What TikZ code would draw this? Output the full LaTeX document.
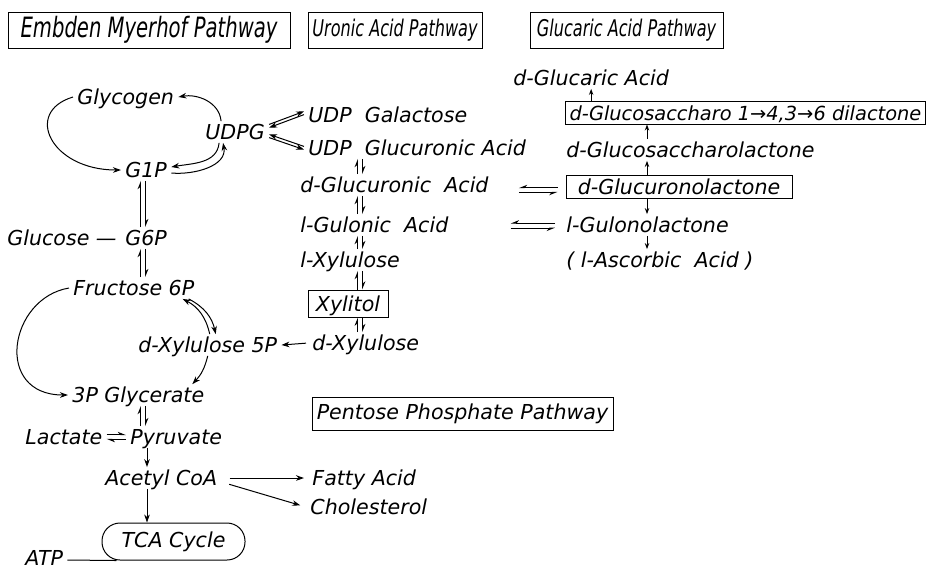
\documentclass[tikz,border=0pt]{standalone}
\usepackage{fontspec}
\setmainfont{DejaVu Sans}
\newfontfamily\hdrfont[FakeStretch=0.7]{DejaVu Sans}
\usetikzlibrary{arrows.meta}

\begin{document}
\begin{tikzpicture}[x=0.5pt,y=-0.5pt,
    every node/.style={font=\fontsize{10.3}{12}\selectfont\itshape},
    lbl/.style={anchor=west, inner xsep=2pt, inner ysep=1.5pt, text height=7.5pt, text depth=0pt},
    pathbox/.style={draw, line width=0.5pt, inner sep=0pt, minimum height=18pt},
    hlbox/.style={draw, line width=0.5pt, inner xsep=2pt, inner ysep=0pt, text height=7.5pt, text depth=0pt, minimum height=11.5pt},
    conn/.style={line width=0.5pt, -{Stealth[length=4pt,width=2.8pt]}},
    small/.style={line width=0.5pt, -{Stealth[length=3pt,width=2.2pt]}},
    harp/.style={line width=0.5pt, -{Stealth[harpoon,length=3.5pt,width=2.8pt]}},
    harps/.style={line width=0.5pt, -{Stealth[harpoon,swap,length=3.5pt,width=2.8pt]}}]
  \useasboundingbox (0,0) rectangle (930,570);

  % pathway titles
  \node[pathbox, font=\hdrfont\itshape\fontsize{14}{16}\selectfont, minimum width=141pt] (emp) at (149,30) {Embden Myerhof Pathway};
  \node[pathbox, font=\hdrfont\itshape\fontsize{11.5}{14}\selectfont, minimum width=87pt] (uap) at (395,30) {Uronic Acid Pathway};
  \node[pathbox, font=\hdrfont\itshape\fontsize{11.5}{14}\selectfont, minimum width=96.5pt] (gap) at (626.5,30) {Glucaric Acid Pathway};
  \node[pathbox, minimum width=150.5pt, minimum height=16.5pt] (ppp) at (462.5,413.5) {Pentose Phosphate Pathway};

  % Embden Myerhof
  \node[lbl] (glycogen) at (73,97) {Glycogen};
  \node[lbl] (udpg) at (201,132) {UDPG};
  \node[lbl] (gonep) at (121,170) {G1P};
  \node[lbl] (gsixp) at (121,238) {G6P};
  \node[lbl, anchor=east] (glucose) at (gsixp.west) {Glucose —};
  \node[lbl] (fructose) at (69,288) {Fructose 6P};
  \node[lbl] (xylfivep) at (134,345) {d-Xylulose 5P};
  \node[lbl] (glycerate) at (68,395) {3P Glycerate};
  \node[lbl] (lactate) at (21,437) {Lactate};
  \node[lbl] (pyruvate) at (126,437) {Pyruvate};
  \node[lbl] (acetyl) at (101,478) {Acetyl CoA};
  \node[lbl] (fatty) at (308,478) {Fatty Acid};
  \node[lbl] (chol) at (306,507) {Cholesterol};
  \node[draw, line width=0.5pt, rounded corners=9pt, minimum width=71.5pt, minimum height=18.5pt] (tca) at (173.5,541.5) {TCA Cycle};
  \node[lbl] (atp) at (21,558) {ATP};

  % Uronic acid
  \node[lbl] (udpgal) at (304,115) {UDP~~Galactose};
  \node[lbl] (udpglc) at (304,148) {UDP~~Glucuronic Acid};
  \node[lbl] (glcacid) at (296,185) {d-Glucuronic~~Acid};
  \node[lbl] (gulacid) at (296,225) {l-Gulonic~~Acid};
  \node[lbl] (lxyl) at (296,260) {l-Xylulose};
  \node[hlbox, minimum width=40pt, minimum height=13.5pt] (xylitol) at (348,303.5) {Xylitol};
  \node[lbl] (dxyl) at (308,343) {d-Xylulose};

  % Glucaric acid
  \node[lbl] (glucaric) at (509,78) {d-Glucaric Acid};
  \node[hlbox, font=\fontsize{9.7}{11}\selectfont\itshape, minimum width=179.5pt] (dilactone) at (745.5,112.5) {d-Glucosaccharo 1→4,3→6 dilactone};
  \node[lbl] (saccharolactone) at (562,150) {d-Glucosaccharolactone};
  \node[hlbox, minimum width=113pt] (glcnolactone) at (679,187) {d-Glucuronolactone};
  \node[lbl] (gulolactone) at (562,225) {l-Gulonolactone};
  \node[lbl] (ascorbic) at (562,260) {( l-Ascorbic~~Acid )};

  \coordinate (laxis) at (143,0);
  \coordinate (uaxis) at (360,0);
  \coordinate (gaxis) at (647,0);

  % glycogen cycle
  \draw[conn] ([xshift=-7pt]udpg.north) to[out=95,in=10] (glycogen.east);
  \draw[conn] (glycogen.west) .. controls +(-50,15) and +(-70,0) .. (gonep.west);
  \draw[conn] ([xshift=-8pt]udpg.south) to[out=-95,in=10] ([yshift=1.5pt]gonep.east);
  \draw[conn] ([yshift=-1.5pt]gonep.east) to[out=-5,in=-80] ([xshift=-6pt]udpg.south);

  % UDPG branches
  \draw[conn] ([yshift=3.8pt]udpg.east) -- ([yshift=1.8pt]udpgal.west);
  \draw[conn] ([yshift=0.2pt]udpgal.west) -- ([yshift=2.2pt]udpg.east);
  \draw[conn] ([yshift=0.8pt]udpglc.west) -- ([yshift=-1.2pt]udpg.east);
  \draw[conn] ([yshift=-2.8pt]udpg.east) -- ([yshift=-0.8pt]udpglc.west);

  % glycolysis
  \draw[harp] ([xshift=-1.3pt]gsixp.north -| laxis) -- ([xshift=-1.3pt]gonep.south -| laxis);
  \draw[harp] ([xshift=1.3pt]gonep.south -| laxis) -- ([xshift=1.3pt]gsixp.north -| laxis);
  \draw[harp] ([xshift=-1.3pt]fructose.north -| laxis) -- ([xshift=-1.3pt]gsixp.south -| laxis);
  \draw[harp] ([xshift=1.3pt]gsixp.south -| laxis) -- ([xshift=1.3pt]fructose.north -| laxis);
  \draw[conn] (fructose.west) .. controls +(-60,10) and +(-75,0) .. (glycerate.west);
  \draw[conn] ([xshift=1pt]xylfivep.north) to[bend right=25] ([xshift=-8pt]fructose.south east);
  \draw[conn] ([xshift=-5pt]fructose.south east) to[bend left=25] ([xshift=4pt]xylfivep.north);
  \draw[conn] (xylfivep.south) to[bend left=15] ([xshift=27pt]glycerate.north);
  \draw[conn, shorten <=1pt] (dxyl.west) -- (xylfivep.east);
  \draw[harp] ([xshift=-1.3pt]pyruvate.north -| laxis) -- ([xshift=-1.3pt]glycerate.south -| laxis);
  \draw[harp] ([xshift=1.3pt]glycerate.south -| laxis) -- ([xshift=1.3pt]pyruvate.north -| laxis);
  \draw[harp] ([yshift=1.2pt]lactate.east) -- ([yshift=1.2pt]pyruvate.west);
  \draw[harp] ([yshift=-1.2pt]pyruvate.west) -- ([yshift=-1.2pt]lactate.east);
  \draw[conn] ([xshift=2pt]pyruvate.south -| laxis) -- ([xshift=2pt]acetyl.north -| laxis);
  \draw[conn] ([xshift=2pt]acetyl.south -| laxis) -- ([xshift=2pt]tca.north -| laxis);
  \draw[conn, shorten <=4pt, shorten >=2pt] (acetyl.east) -- (fatty.west);
  \draw[conn, shorten <=4pt, shorten >=3pt] ([yshift=-2pt]acetyl.east) -- (chol.west);
  \draw[line width=0.5pt] ([yshift=-1pt]atp.east) -- ([xshift=7.5pt]tca.south west);

  % uronic acid steps
  \draw[harp] ([xshift=-1.3pt]glcacid.north -| uaxis) -- ([xshift=-1.3pt]udpglc.south -| uaxis);
  \draw[harp] ([xshift=1.3pt]udpglc.south -| uaxis) -- ([xshift=1.3pt]glcacid.north -| uaxis);
  \draw[harp] ([xshift=-1.3pt]gulacid.north -| uaxis) -- ([xshift=-1.3pt]glcacid.south -| uaxis);
  \draw[harp] ([xshift=1.3pt]glcacid.south -| uaxis) -- ([xshift=1.3pt]gulacid.north -| uaxis);
  \draw[harp] ([xshift=-1.3pt]lxyl.north -| uaxis) -- ([xshift=-1.3pt]gulacid.south -| uaxis);
  \draw[harp] ([xshift=1.3pt]gulacid.south -| uaxis) -- ([xshift=1.3pt]lxyl.north -| uaxis);
  \draw[harp] ([xshift=-1.3pt]xylitol.north -| uaxis) -- ([xshift=-1.3pt]lxyl.south -| uaxis);
  \draw[harp] ([xshift=1.3pt]lxyl.south -| uaxis) -- ([xshift=1.3pt]xylitol.north -| uaxis);
  \draw[harp] ([xshift=-1.3pt]dxyl.north -| uaxis) -- ([xshift=-1.3pt]xylitol.south -| uaxis);
  \draw[harp] ([xshift=1.3pt]xylitol.south -| uaxis) -- ([xshift=1.3pt]dxyl.north -| uaxis);

  % lactone links
  \draw[harps, shorten <=4pt, shorten >=13pt] ([yshift=-0.3pt]glcnolactone.west) -- ([yshift=-0.3pt]glcnolactone.west -| glcacid.east);
  \draw[harps, shorten <=13pt, shorten >=4pt] ([yshift=-2.7pt]glcnolactone.west -| glcacid.east) -- ([yshift=-2.7pt]glcnolactone.west);
  \draw[harps, shorten <=3.5pt, shorten >=29pt] ([yshift=1pt]gulolactone.west) -- ([yshift=1pt]gulolactone.west -| gulacid.east);
  \draw[harps, shorten <=29pt, shorten >=3.5pt] ([yshift=-1.6pt]gulolactone.west -| gulacid.east) -- ([yshift=-1.6pt]gulolactone.west);

  % glucaric acid steps
  \draw[small] (dilactone.north -| glucaric) -- (glucaric.south);
  \draw[small] (saccharolactone.north -| gaxis) -- (dilactone.south -| gaxis);
  \draw[small] (glcnolactone.north -| gaxis) -- (saccharolactone.south -| gaxis);
  \draw[small] (glcnolactone.south -| gaxis) -- (gulolactone.north -| gaxis);
  \draw[small] (gulolactone.south -| gaxis) -- (ascorbic.north -| gaxis);
\end{tikzpicture}
\end{document}
